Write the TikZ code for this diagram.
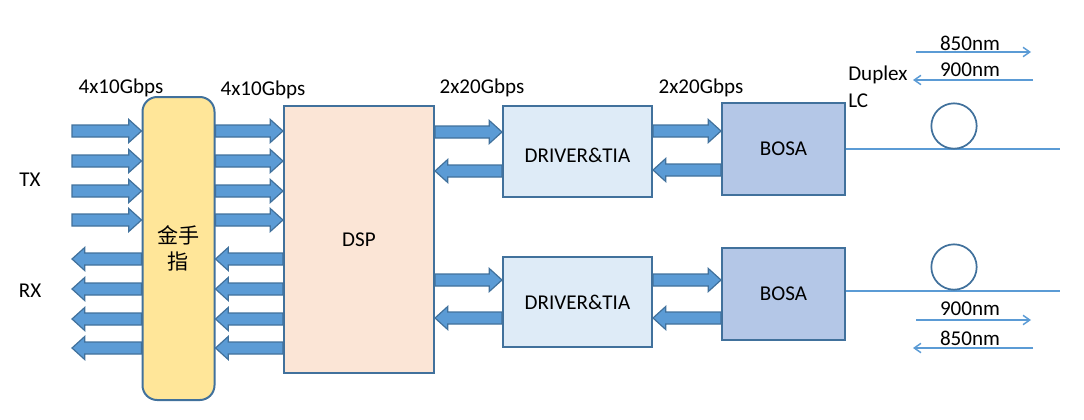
\documentclass[tikz,border=0pt]{standalone}
\usepackage{fontspec}
\setmainfont{Carlito}
\newfontfamily\cjk{Noto Sans CJK SC}
\usetikzlibrary{arrows.meta,calc}
\definecolor{arrfill}{HTML}{5B9BD5}
\definecolor{arrline}{HTML}{41719C}
\definecolor{goldfill}{HTML}{FFE699}
\definecolor{dspfill}{HTML}{FBE5D6}
\definecolor{drvfill}{HTML}{DEEBF7}
\definecolor{bosafill}{HTML}{B4C7E7}

% horizontal block arrow, tip at the second point
\newcommand\blkarrow[2]{%
  \draw[blkarr] let \p1=#1, \p2=#2, \n1={sign(\x2-\x1)} in
    (\x1,\y1+4.5pt) -- ({\x2-\n1*9.5pt},\y1+4.5pt) -- ({\x2-\n1*9.5pt},\y1+8.6pt)
    -- (\x2,\y1) -- ({\x2-\n1*9.5pt},\y1-8.6pt) -- ({\x2-\n1*9.5pt},\y1-4.5pt)
    -- (\x1,\y1-4.5pt) -- cycle;}

\begin{document}
\begin{tikzpicture}[x=0.75pt,y=-0.75pt,
  every node/.style={font=\fontsize{15.8}{18}\selectfont},
  blk/.style={rectangle,draw=arrline,line width=1.5pt,inner sep=0pt},
  blkarr/.style={fill=arrfill,draw=arrline,line width=0.9pt,line join=miter},
  lbl/.style={inner sep=0pt},
  fiber/.style={draw=arrfill,line width=1.2pt},
  wl/.style={draw=arrfill,line width=1.1pt,-{Straight Barb[length=5pt,width=7pt]}}
]
  \useasboundingbox (0,0) rectangle (1084,419);

  % ---- Boxes --------------------------------------------------
  \node[blk,fill=goldfill,rounded corners=11pt,minimum width=54pt,
        minimum height=227.25pt,align=center] (gold) at (178.5,248.5)
    {\cjk 金手\\[2pt]\cjk 指};
  \node[blk,fill=dspfill,minimum width=112.5pt,minimum height=200.25pt]
    (dsp) at (359,239.5) {DSP};
  \node[blk,fill=drvfill,minimum width=111.75pt,minimum height=68.25pt]
    (drvU) at (577.5,151.5) {};
  \node[lbl] (drvUt) at (577.5,155) {DRIVER\&TIA};
  \node[blk,fill=drvfill,minimum width=111.75pt,minimum height=67.5pt]
    (drvL) at (577.5,302) {DRIVER\&TIA};
  \node[blk,fill=bosafill,minimum width=92.25pt,minimum height=69pt]
    (bosaU) at (783.5,149) {BOSA};
  \node[blk,fill=bosafill,minimum width=92.25pt,minimum height=69pt]
    (bosaL) at (783.5,294) {BOSA};

  % ---- Electrical lanes ---------------------------------------
  \foreach \r in {131,161,191,220} {
    \blkarrow{(72,\r)}{(gold.west |- 0,\r)}
    \blkarrow{(gold.east |- 0,\r)}{(dsp.west |- 0,\r)}
  }
  \foreach \r in {259,289,319,348} {
    \blkarrow{(gold.west |- 0,\r)}{(72,\r)}
    \blkarrow{(dsp.west |- 0,\r)}{(gold.east |- 0,\r)}
  }

  % DSP <-> driver <-> BOSA
  \blkarrow{(dsp.east |- 0,132)}{(drvU.west |- 0,132)}
  \blkarrow{(drvU.west |- 0,171)}{(dsp.east |- 0,171)}
  \blkarrow{(drvU.east |- 0,131)}{(bosaU.west |- 0,131)}
  \blkarrow{(bosaU.west |- 0,170)}{(drvU.east |- 0,170)}
  \blkarrow{(dsp.east |- 0,280)}{(drvL.west |- 0,280)}
  \blkarrow{(drvL.west |- 0,318)}{(dsp.east |- 0,318)}
  \blkarrow{(drvL.east |- 0,280)}{(bosaL.west |- 0,280)}
  \blkarrow{(bosaL.west |- 0,318)}{(drvL.east |- 0,318)}

  % ---- Rate labels --------------------------------------------
  \node[lbl] (r1) at (121,88) {4x10Gbps};
  \node[lbl] (r2) at (263,90) {4x10Gbps};
  \node[lbl] (r3) at (482,88) {2x20Gbps};
  \node[lbl] (r4) at (701,88) {2x20Gbps};
  \node[lbl] (tx) at (30,180) {TX};
  \node[lbl] (rx) at (30,291) {RX};

  % ---- Fibre side ---------------------------------------------
  \node[lbl,anchor=west] (dup) at (848,75) {Duplex};
  \node[lbl,anchor=west] (lc) at (848,101) {LC};

  \coordinate (fibU) at (1060,149);
  \coordinate (fibL) at (1060,291);
  \draw[fiber] (bosaU.east |- fibU) -- (fibU);
  \draw[fiber] (bosaL.east |- fibL) -- (fibL);
  \node[circle,draw=arrline,line width=1.3pt,minimum size=34pt,inner sep=0pt]
    (loopU) at (954,126) {};
  \node[circle,draw=arrline,line width=1.3pt,minimum size=34pt,inner sep=0pt]
    (loopL) at (954,267) {};

  % wavelengths
  \node[lbl] (w1) at (970,43) {850nm};
  \node[lbl] (w2) at (970,70) {900nm};
  \node[lbl] (w3) at (970,309) {900nm};
  \node[lbl] (w4) at (970,338) {850nm};
  \coordinate (w1a) at (916,52);  \coordinate (w1b) at (1031,52);
  \coordinate (w2a) at (1033,80); \coordinate (w2b) at (913,80);
  \coordinate (w3a) at (916,320); \coordinate (w3b) at (1031,320);
  \coordinate (w4a) at (1033,348); \coordinate (w4b) at (913,348);
  \draw[wl] (w1a) -- (w1b);
  \draw[wl] (w2a) -- (w2b);
  \draw[wl] (w3a) -- (w3b);
  \draw[wl] (w4a) -- (w4b);

\end{tikzpicture}
\end{document}
